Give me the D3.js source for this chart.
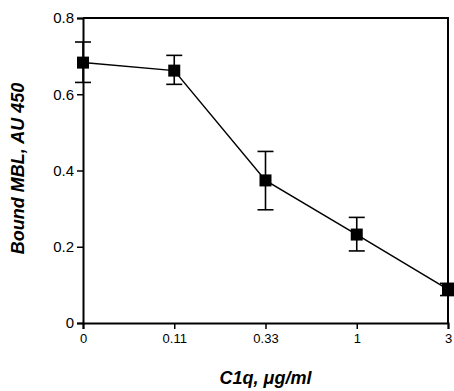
<!DOCTYPE html>
<html>
<head>
<meta charset="utf-8">
<script src="https://cdn.jsdelivr.net/npm/d3@7"></script>
<style>
  body { margin: 0; background: #fff; }
  text { font-family: "Liberation Sans", Arial, sans-serif; }
</style>
</head>
<body>
<div id="chart"></div>
<script>
// C1q concentrations (categorical, evenly spaced)
const doses = ["0", "0.11", "0.33", "1", "3"];
const boundMBL = [0.683, 0.662, 0.374, 0.232, 0.088];
const errUpper = [0.737, 0.702, 0.450, 0.277, 0.104];
const errLower = [0.631, 0.626, 0.297, 0.189, 0.072];
const yTicks = [0, 0.2, 0.4, 0.6, 0.8];

const W = 454, H = 391;
const margin = { top: 18, right: 6, bottom: 68, left: 83 };

const svg = d3.select("#chart").append("svg")
  .attr("width", W)
  .attr("height", H);

const x = d3.scalePoint()
  .domain(doses)
  .range([margin.left, W - margin.right]);

const y = d3.scaleLinear()
  .domain([0, 0.8])
  .range([H - margin.bottom, margin.top]);

// frame (top and right)
svg.append("path")
  .attr("d", `M${x.range()[0]},${y(0.8)}H${x.range()[1]}V${y(0)}`)
  .attr("fill", "none")
  .attr("stroke", "#000")
  .attr("stroke-width", 2);

// y axis
const yAxis = svg.append("g")
  .attr("transform", `translate(${margin.left},0)`)
  .call(d3.axisLeft(y).tickValues(yTicks).tickFormat(d => d === 0 ? "0" : d3.format(".1f")(d)).tickSize(6).tickPadding(3));
yAxis.select(".domain").attr("stroke-width", 2);
yAxis.selectAll(".tick line").attr("stroke-width", 1.5);
yAxis.selectAll("text").style("font-size", "15px").attr("fill", "#000");

// x axis
const xAxis = svg.append("g")
  .attr("transform", `translate(0,${y(0)})`)
  .call(d3.axisBottom(x).tickSize(6).tickPadding(5));
xAxis.select(".domain").attr("stroke-width", 2);
xAxis.selectAll(".tick line").attr("stroke-width", 1.5);
xAxis.selectAll("text").style("font-size", "13px").attr("fill", "#000");

// axis titles
svg.append("text")
  .attr("x", (x.range()[0] + x.range()[1]) / 2)
  .attr("y", 384)
  .attr("text-anchor", "middle")
  .style("font-size", "18px")
  .style("font-weight", "bold")
  .style("font-style", "italic")
  .text("C1q, μg/ml");

svg.append("text")
  .attr("transform", `translate(24,${(y(0) + y(0.8)) / 2 - 2}) rotate(-90)`)
  .attr("text-anchor", "middle")
  .style("font-size", "18px")
  .style("font-weight", "bold")
  .style("font-style", "italic")
  .text("Bound MBL, AU 450");

const pts = doses.map((d, i) => ({ d, v: boundMBL[i], hi: errUpper[i], lo: errLower[i] }));

// connecting line
svg.append("path")
  .datum(pts)
  .attr("fill", "none")
  .attr("stroke", "#000")
  .attr("stroke-width", 1.5)
  .attr("d", d3.line().x(p => x(p.d)).y(p => y(p.v)));

// error bars
const cap = 8;
const eb = svg.append("g").attr("stroke", "#000").attr("stroke-width", 1.6);
eb.selectAll(".stem").data(pts).join("line")
  .attr("x1", p => x(p.d)).attr("x2", p => x(p.d))
  .attr("y1", p => y(p.hi)).attr("y2", p => y(p.lo));
eb.selectAll(".capHi").data(pts).join("line")
  .attr("x1", p => x(p.d) - cap).attr("x2", p => x(p.d) + cap)
  .attr("y1", p => y(p.hi)).attr("y2", p => y(p.hi));
eb.selectAll(".capLo").data(pts).join("line")
  .attr("x1", p => x(p.d) - cap).attr("x2", p => x(p.d) + cap)
  .attr("y1", p => y(p.lo)).attr("y2", p => y(p.lo));

// square markers
const sq = 12;
svg.selectAll(".pt").data(pts).join("rect")
  .attr("x", p => x(p.d) - sq / 2)
  .attr("y", p => y(p.v) - sq / 2)
  .attr("width", sq)
  .attr("height", sq)
  .attr("fill", "#000");
</script>
</body>
</html>
